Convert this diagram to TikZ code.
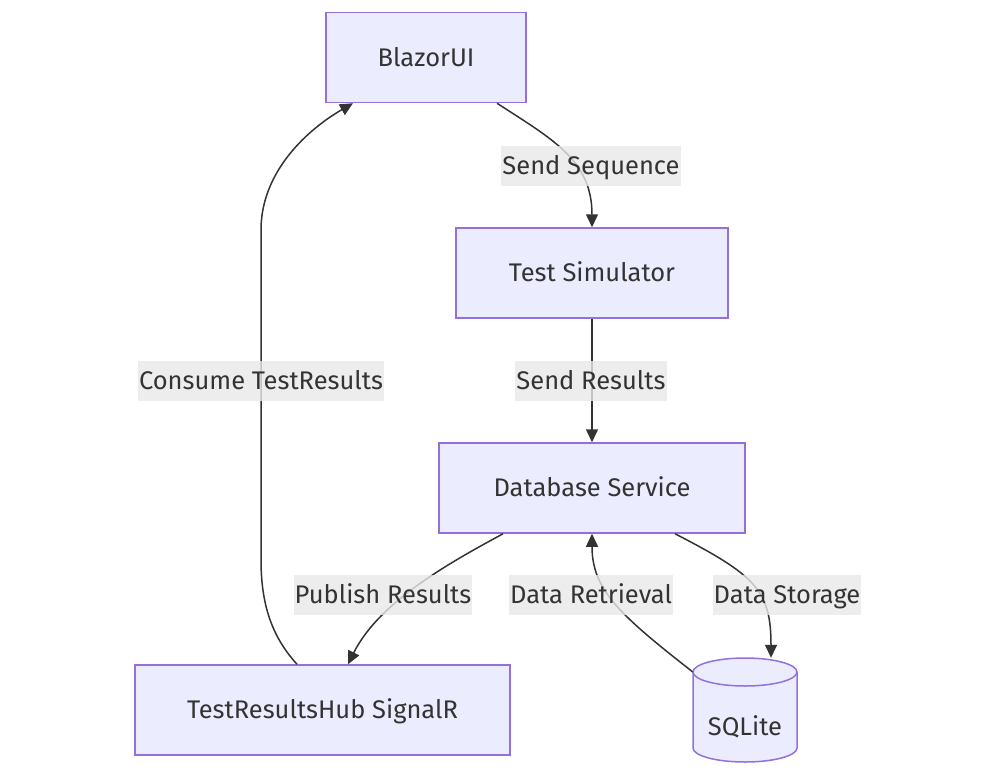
\documentclass[tikz,border=0pt]{standalone}
\usepackage{fontspec}
\setmainfont{Fira Sans}
\usetikzlibrary{arrows.meta}

\definecolor{nodefill}{HTML}{ECECFF}
\definecolor{nodeline}{HTML}{9370DB}
\definecolor{edgeline}{HTML}{333333}
\definecolor{lblfill}{HTML}{E8E8E8}

\begin{document}
\begin{tikzpicture}[x=1pt,y=-1pt,
  txt/.style={text=edgeline,font=\fontsize{25.5}{30}\selectfont,text height=22.5pt,text depth=5pt},
  box/.style={txt,draw=nodeline,fill=nodefill,line width=1.5pt,minimum height=90pt},
  store/.style={draw=nodeline,fill=nodefill,line width=1.5pt},
  lbl/.style={txt,fill=lblfill,fill opacity=0.8,text opacity=1,inner sep=0pt,inner xsep=1pt,minimum height=40pt},
  flow/.style={draw=edgeline,line width=1.5pt,-{Triangle[length=13pt,width=12pt]}}]
\useasboundingbox (0,0) rectangle (1000,778);
\node[box,minimum width=200pt] (blazor) at (426,57.5) {BlazorUI};
\node[box,minimum width=272pt] (sim) at (592,273) {Test Simulator};
\node[box,minimum width=306pt] (db) at (592,488) {Database Service};
\node[box,minimum width=375pt] (hub) at (322.5,710) {TestResultsHub SignalR};
% SQLite cylinder
\node[minimum width=104pt,minimum height=104pt,inner sep=0pt] (sqlite) at (745,710) {};
\draw[store] (693,672) -- (693,748) arc (180:360:52pt and 14pt) -- (797,672)
  arc (0:180:52pt and 14pt) -- cycle;
\draw[store,fill=none] (693,672) arc (180:360:52pt and 14pt);
\node[txt] (sqlitetxt) at (745,727) {SQLite};

\draw[flow] ([xshift=71pt]blazor.south) .. controls (552,139) and (592,160) .. (sim.north);
\draw[flow] (sim.south) -- (db.north);
\draw[flow] ([xshift=-89pt]db.south) .. controls (455,560) and (380,600) .. ([xshift=25.5pt]hub.north);
\draw[flow] ([xshift=-25.5pt]hub.north) .. controls (275,640) and (261,610) .. (261,560)
  -- (261,230) .. controls (261,170) and (310,128) .. ([xshift=-73pt]blazor.south);
\draw[flow] ([yshift=38pt]sqlite.west) .. controls (620,615) and (592,590) .. (db.south);
\draw[flow] ([xshift=83pt]db.south) .. controls (755,575) and (771,590) .. ([xshift=26pt]sqlite.north);

\node[lbl] (l1) at (591,166) {Send Sequence};
\node[lbl] (l2) at (591,381) {Send Results};
\node[lbl] (l3) at (261,381) {Consume TestResults};
\node[lbl] (l4) at (383,595) {Publish Results};
\node[lbl] (l5) at (591,595) {Data Retrieval};
\node[lbl] (l6) at (787,595) {Data Storage};
\end{tikzpicture}
\end{document}
